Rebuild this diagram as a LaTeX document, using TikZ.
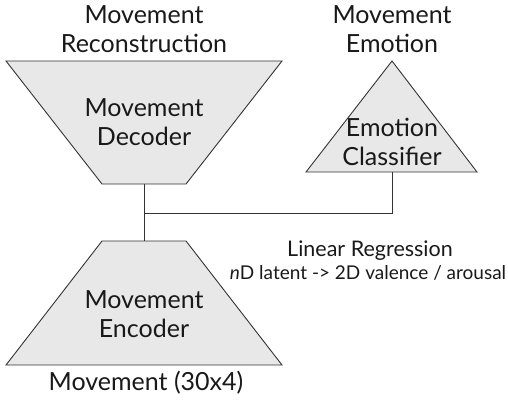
\documentclass[tikz,border=0pt]{standalone}
\usepackage{fontspec}
\setmainfont{Lato}
\begin{document}
\begin{tikzpicture}[x=1pt,y=-1pt,
  blockshape/.style={draw=black!80,fill=black!9,line width=0.9pt,line join=miter},
  conn/.style={draw=black!80,line width=0.9pt},
  lbl/.style={font=\fontsize{25}{29}\selectfont,align=center,inner sep=0pt,text=black!90},
  mid/.style={font=\fontsize{21.5}{25}\selectfont,align=center,inner sep=0pt,text=black!90},
  small/.style={font=\fontsize{19}{22}\selectfont,align=center,inner sep=0pt,text=black!90}]
\useasboundingbox (0,0) rectangle (508,400);
% decoder
\path[blockshape] (6,61) -- (282,61) -- (186,184) -- (102,184) -- cycle;
\coordinate (decB) at (144,184);
% encoder
\path[blockshape] (102,241) -- (186,241) -- (282,365) -- (6,365) -- cycle;
\coordinate (encT) at (144,241);
% classifier
\path[blockshape] (392,61) -- (477,172) -- (306,172) -- cycle;
\coordinate (clsB) at (392,172);
\coordinate (junc) at (144,213);
\draw[conn] (decB) -- (encT);
\draw[conn] (junc) -| (clsB);
\node[lbl] (recon) at (144,29) {Movement\\Reconstruction};
\node[lbl] (dec) at (144,122) {Movement\\Decoder};
\node[lbl] (emo) at (392,29) {Movement\\Emotion};
\node[lbl] (cls) at (392,142) {Emotion\\Classifier};
\node[lbl] (enc) at (144,314) {Movement\\Encoder};
\node[lbl] (inp) at (146,383) {Movement (30x4)};
\node[mid] (lr) at (370,251) {Linear Regression};
\node[small] (lr2) at (368,273) {\textit{n}D latent -> 2D valence / arousal};
\end{tikzpicture}
\end{document}
